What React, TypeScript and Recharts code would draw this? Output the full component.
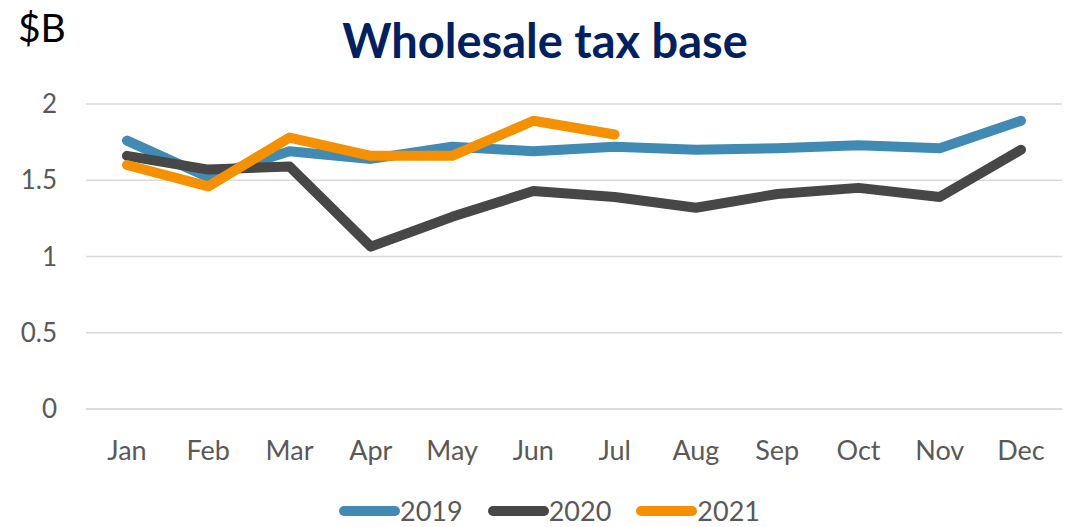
import React from "react";
import { LineChart, Line, XAxis, YAxis, CartesianGrid, Legend } from "recharts";

const months = ["Jan", "Feb", "Mar", "Apr", "May", "Jun", "Jul", "Aug", "Sep", "Oct", "Nov", "Dec"];
const v2019 = [1.76, 1.52, 1.69, 1.64, 1.72, 1.69, 1.72, 1.70, 1.71, 1.73, 1.71, 1.89];
const v2020 = [1.66, 1.57, 1.59, 1.065, 1.26, 1.43, 1.39, 1.32, 1.41, 1.45, 1.39, 1.70];
const v2021 = [1.60, 1.46, 1.78, 1.66, 1.66, 1.89, 1.80];
const yTicks = [0, 0.5, 1, 1.5, 2];

const seriesInfo = [
  { key: "2019", color: "#418AB3" },
  { key: "2020", color: "#474747" },
  { key: "2021", color: "#F59100" },
];

const data = months.map((m, i) => ({
  month: m,
  "2019": v2019[i],
  "2020": v2020[i],
  "2021": i < v2021.length ? v2021[i] : null,
}));

const FONT = "Lato, 'Open Sans', sans-serif";

const LegendContent = () => (
  <div style={{ display: "flex", justifyContent: "center", alignItems: "center", gap: 25, paddingLeft: 23, fontFamily: FONT }}>
    {seriesInfo.map((s) => (
      <div key={s.key} style={{ display: "flex", alignItems: "center" }}>
        <div style={{ width: 61, height: 10, borderRadius: 5, background: s.color }} />
        <span style={{ fontSize: 27, color: "#595959", lineHeight: "30px" }}>{s.key}</span>
      </div>
    ))}
  </div>
);

export default function App() {
  return (
    <div style={{ position: "absolute", left: 0, top: 0, width: 1076, height: 527, background: "#fff", fontFamily: FONT }}>
      <div style={{ position: "absolute", left: 18, top: 4, fontSize: 39, color: "#000", whiteSpace: "nowrap" }}>$B</div>
      <div style={{ position: "absolute", left: 0, width: 1090, top: 12, textAlign: "center", fontSize: 47, fontWeight: 700, color: "#002060", whiteSpace: "nowrap" }}>
        Wholesale tax base
      </div>
      <LineChart width={1076} height={527} data={data} margin={{ top: 104, right: 14, left: 0, bottom: 0 }}>
        <CartesianGrid vertical={false} stroke="#D9D9D9" strokeWidth={1.5} />
        <XAxis
          dataKey="month"
          interval={0}
          height={88}
          tickLine={false}
          tickSize={0}
          tickMargin={32}
          axisLine={{ stroke: "#D9D9D9", strokeWidth: 1.5 }}
          padding={{ left: 41, right: 41 }}
          tick={{ fill: "#595959", fontSize: 27, fontFamily: FONT }}
        />
        <YAxis
          width={86}
          domain={[0, 2]}
          ticks={yTicks}
          tickLine={false}
          axisLine={false}
          tickSize={0}
          tickMargin={29}
          tick={{ fill: "#595959", fontSize: 26, fontFamily: FONT }}
        />
        <Legend
          verticalAlign="bottom"
          content={LegendContent}
          wrapperStyle={{ left: 0, width: 1076, height: 30, bottom: 1 }}
        />
        {seriesInfo.map((s) => (
          <Line
            key={s.key}
            type="linear"
            dataKey={s.key}
            stroke={s.color}
            strokeWidth={10}
            strokeLinecap="round"
            strokeLinejoin="round"
            dot={false}
            activeDot={false}
            connectNulls={false}
            isAnimationActive={false}
          />
        ))}
      </LineChart>
    </div>
  );
}
